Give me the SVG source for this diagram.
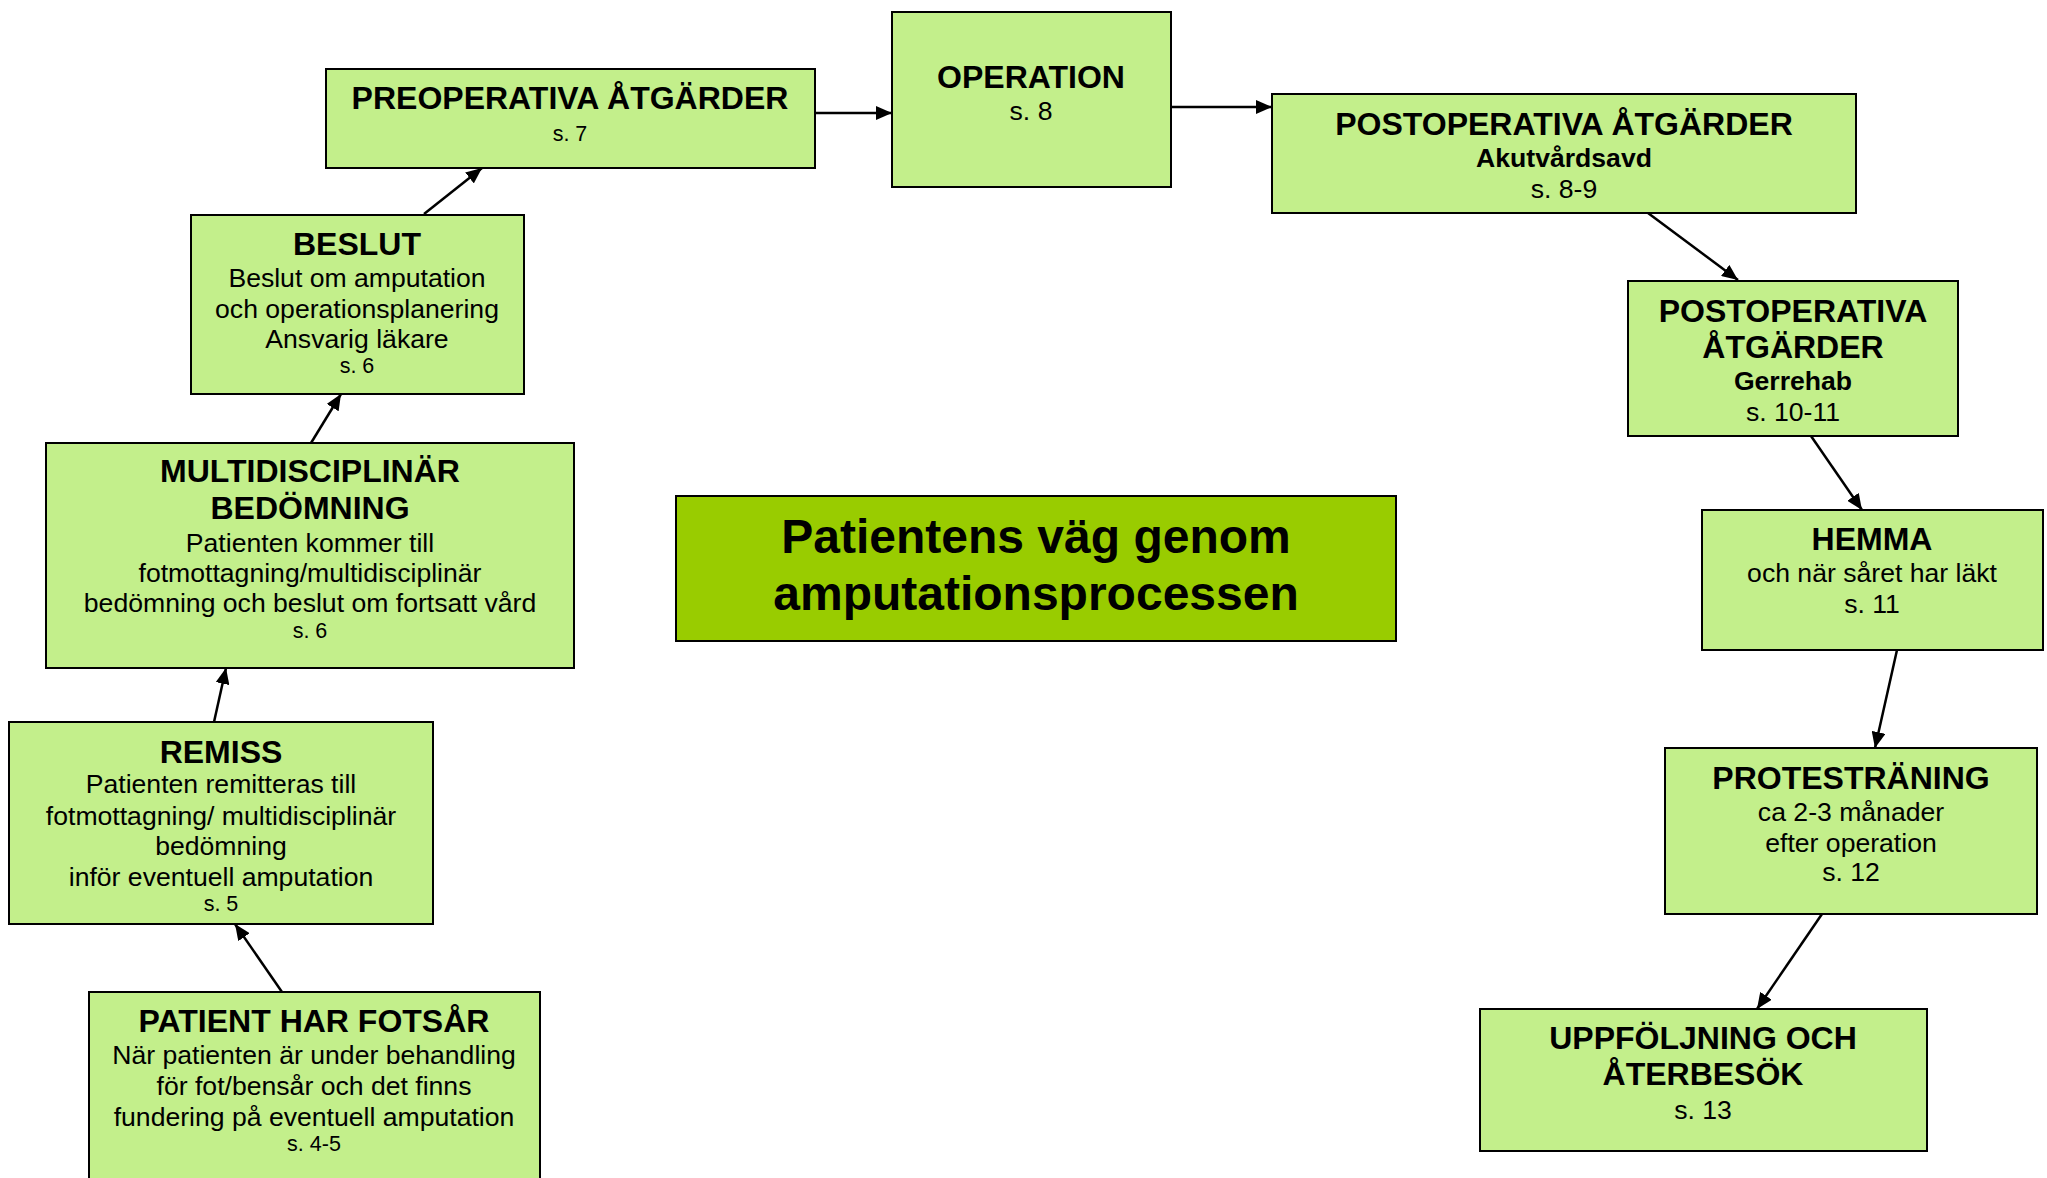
<svg xmlns="http://www.w3.org/2000/svg" width="2047" height="1178" viewBox="0 0 2047 1178">
<style>
.box{fill:#C3EF8B;stroke:#000;stroke-width:2}
.title{fill:#99CC00;stroke:#000;stroke-width:2}
text{font-family:"Liberation Sans",Arial,sans-serif;text-anchor:middle;fill:#000}
.h{font-weight:bold;font-size:32px}
.b{font-size:26.6px}
.bb{font-weight:bold;font-size:26.6px}
.s{font-size:21.5px}
.t{font-weight:bold;font-size:48px}
.c{stroke:#000;stroke-width:2.5;fill:none;marker-end:url(#ah)}
</style>
<defs>
<marker id="ah" markerUnits="userSpaceOnUse" markerWidth="18" markerHeight="14" refX="16" refY="7" orient="auto">
<path d="M0,0 L16,7 L0,14 Z" fill="#000"/>
</marker>
</defs>
<rect width="2047" height="1178" fill="#fff"/>
<g id="connectors">
<line class="c" x1="282" y1="992" x2="235" y2="924"/>
<line class="c" x1="214" y1="722" x2="226" y2="668"/>
<line class="c" x1="311" y1="443" x2="341" y2="394"/>
<line class="c" x1="424" y1="214" x2="482" y2="168"/>
<line class="c" x1="815" y1="113" x2="892" y2="113"/>
<line class="c" x1="1171" y1="107" x2="1272" y2="107"/>
<line class="c" x1="1648" y1="213" x2="1738" y2="280"/>
<line class="c" x1="1811" y1="436" x2="1862" y2="510"/>
<line class="c" x1="1897" y1="650" x2="1875" y2="748"/>
<line class="c" x1="1822" y1="914" x2="1757" y2="1009"/>
</g>
<g id="preop">
<rect class="box" x="326" y="69" width="489" height="99"/>
<text class="h" x="570" y="109">PREOPERATIVA ÅTGÄRDER</text>
<text class="s" x="570" y="141">s. 7</text>
</g>
<g id="operation">
<rect class="box" x="892" y="12" width="279" height="175"/>
<text class="h" x="1031" y="88">OPERATION</text>
<text class="b" x="1031" y="120">s. 8</text>
</g>
<g id="postop-akut">
<rect class="box" x="1272" y="94" width="584" height="119"/>
<text class="h" x="1564" y="135">POSTOPERATIVA ÅTGÄRDER</text>
<text class="bb" x="1564" y="167">Akutvårdsavd</text>
<text class="b" x="1564" y="198">s. 8-9</text>
</g>
<g id="postop-gerrehab">
<rect class="box" x="1628" y="281" width="330" height="155"/>
<text class="h" x="1793" y="322">POSTOPERATIVA</text>
<text class="h" x="1793" y="358">ÅTGÄRDER</text>
<text class="bb" x="1793" y="390">Gerrehab</text>
<text class="b" x="1793" y="421">s. 10-11</text>
</g>
<g id="hemma">
<rect class="box" x="1702" y="510" width="341" height="140"/>
<text class="h" x="1872" y="550">HEMMA</text>
<text class="b" x="1872" y="582">och när såret har läkt</text>
<text class="b" x="1872" y="613">s. 11</text>
</g>
<g id="protestraning">
<rect class="box" x="1665" y="748" width="372" height="166"/>
<text class="h" x="1851" y="789">PROTESTRÄNING</text>
<text class="b" x="1851" y="821">ca 2-3 månader</text>
<text class="b" x="1851" y="852">efter operation</text>
<text class="b" x="1851" y="881">s. 12</text>
</g>
<g id="uppfoljning">
<rect class="box" x="1480" y="1009" width="447" height="142"/>
<text class="h" x="1703" y="1049">UPPFÖLJNING OCH</text>
<text class="h" x="1703" y="1085">ÅTERBESÖK</text>
<text class="b" x="1703" y="1119">s. 13</text>
</g>
<g id="beslut">
<rect class="box" x="191" y="215" width="333" height="179"/>
<text class="h" x="357" y="255">BESLUT</text>
<text class="b" x="357" y="287">Beslut om amputation</text>
<text class="b" x="357" y="318">och operationsplanering</text>
<text class="b" x="357" y="348">Ansvarig läkare</text>
<text class="s" x="357" y="373">s. 6</text>
</g>
<g id="multidisciplinar">
<rect class="box" x="46" y="443" width="528" height="225"/>
<text class="h" x="310" y="482">MULTIDISCIPLINÄR</text>
<text class="h" x="310" y="519">BEDÖMNING</text>
<text class="b" x="310" y="552">Patienten kommer till</text>
<text class="b" x="310" y="582">fotmottagning/multidisciplinär</text>
<text class="b" x="310" y="612">bedömning och beslut om fortsatt vård</text>
<text class="s" x="310" y="638">s. 6</text>
</g>
<g id="remiss">
<rect class="box" x="9" y="722" width="424" height="202"/>
<text class="h" x="221" y="763">REMISS</text>
<text class="b" x="221" y="793">Patienten remitteras till</text>
<text class="b" x="221" y="825">fotmottagning/ multidisciplinär</text>
<text class="b" x="221" y="855">bedömning</text>
<text class="b" x="221" y="886">inför eventuell amputation</text>
<text class="s" x="221" y="911">s. 5</text>
</g>
<g id="patient">
<rect class="box" x="89" y="992" width="451" height="200"/>
<text class="h" x="314" y="1032">PATIENT HAR FOTSÅR</text>
<text class="b" x="314" y="1064">När patienten är under behandling</text>
<text class="b" x="314" y="1095">för fot/bensår och det finns</text>
<text class="b" x="314" y="1126">fundering på eventuell amputation</text>
<text class="s" x="314" y="1151">s. 4-5</text>
</g>
<g id="title">
<rect class="title" x="676" y="496" width="720" height="145"/>
<text class="t" x="1036" y="553">Patientens väg genom</text>
<text class="t" x="1036" y="610">amputationsprocessen</text>
</g>
</svg>
